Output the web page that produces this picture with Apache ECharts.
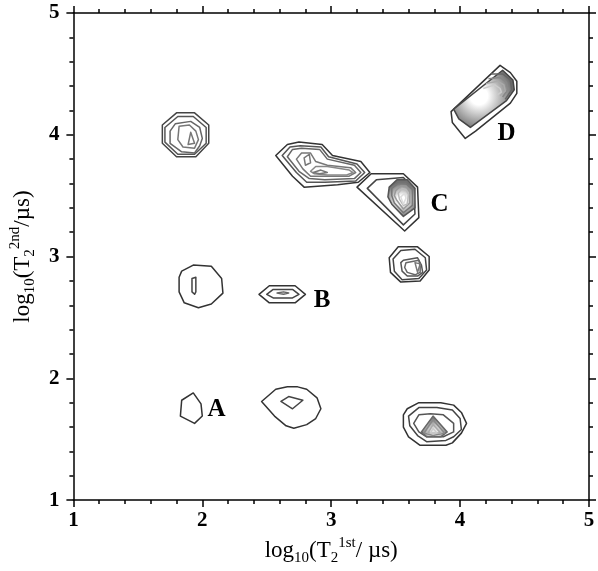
<!DOCTYPE html>
<html><head><meta charset="utf-8">
<script src="https://cdn.jsdelivr.net/npm/echarts@6/dist/echarts.min.js"></script>
<style>html,body{margin:0;padding:0;background:#fff}#c{width:598px;height:571px}</style>
</head><body><div id="c"></div>
<script>
// ---- axis range / ticks (log10 of T2 in microseconds) ----
const axisMin = 1, axisMax = 5, axisStep = 1;

// ---- peak labels ----
const peakLabels = ['A', 'B', 'C', 'D'];
const peakLabelX = [2.11, 2.93, 3.84, 4.36];
const peakLabelY = [1.74, 2.64, 3.43, 4.01];

// ---- contour rings, [log10 T2 1st, log10 T2 2nd] vertices ----
const peakTopLeft = [
  [[1.80,4.18],[1.94,4.18],[2.05,4.08],[2.05,3.93],[1.95,3.82],[1.80,3.82],[1.69,3.93],[1.69,4.08]],
  [[1.81,4.15],[1.93,4.15],[2.03,4.06],[2.03,3.93],[1.94,3.84],[1.81,3.84],[1.71,3.94],[1.71,4.06]],
  [[1.79,4.09],[1.91,4.11],[1.98,4.06],[2.00,3.97],[1.98,3.91],[1.94,3.85],[1.84,3.86],[1.75,3.93],[1.75,4.03]],
  [[1.82,4.07],[1.90,4.08],[1.95,4.03],[1.97,3.96],[1.94,3.89],[1.85,3.90],[1.81,3.96]],
  [[1.91,4.02],[1.94,3.93],[1.89,3.92]]
];
const peakRidge = [
  [[2.57,3.83],[2.66,3.92],[2.75,3.94],[2.93,3.92],[3.01,3.83],[3.23,3.78],[3.30,3.69],[3.21,3.61],[3.05,3.59],[2.79,3.57],[2.70,3.66]],
  [[2.62,3.83],[2.68,3.90],[2.76,3.91],[2.92,3.90],[2.98,3.82],[3.20,3.76],[3.26,3.69],[3.19,3.62],[2.95,3.61],[2.81,3.61],[2.73,3.69]],
  [[2.66,3.82],[2.70,3.88],[2.77,3.89],[2.91,3.88],[2.97,3.80],[3.18,3.75],[3.23,3.69],[3.18,3.64],[2.95,3.63],[2.83,3.64],[2.75,3.70]],
  [[2.73,3.80],[2.77,3.85],[2.84,3.85],[2.88,3.78],[2.97,3.75],[3.15,3.73],[3.19,3.69],[3.14,3.66],[2.96,3.66],[2.84,3.66],[2.78,3.72]],
  [[2.88,3.74],[2.97,3.74],[3.14,3.71],[3.17,3.69],[3.12,3.67],[2.97,3.67],[2.87,3.68],[2.84,3.70]],
  [[2.79,3.81],[2.83,3.84],[2.84,3.77],[2.80,3.75]],
  [[2.86,3.69],[2.92,3.71],[2.97,3.69],[2.91,3.68]]
];
const peakC = [
  [[3.20,3.57],[3.31,3.68],[3.56,3.68],[3.67,3.57],[3.68,3.32],[3.57,3.21]],
  [[3.28,3.56],[3.35,3.63],[3.56,3.65],[3.64,3.56],[3.65,3.35],[3.56,3.26]],
  [[3.45,3.57],[3.51,3.63],[3.59,3.63],[3.65,3.56],[3.65,3.40],[3.56,3.33],[3.47,3.43],[3.44,3.49]],
  [[3.47,3.56],[3.52,3.60],[3.58,3.60],[3.63,3.55],[3.63,3.42],[3.56,3.36],[3.49,3.44],[3.47,3.50]],
  [[3.50,3.54],[3.54,3.58],[3.58,3.58],[3.61,3.53],[3.61,3.44],[3.56,3.39],[3.51,3.46],[3.49,3.50]],
  [[3.52,3.52],[3.55,3.56],[3.58,3.55],[3.60,3.51],[3.59,3.43],[3.56,3.42],[3.53,3.47]],
  [[3.54,3.49],[3.57,3.52],[3.58,3.48],[3.56,3.43]]
];
const peakD = [
  [[3.93,4.19],[3.94,4.10],[4.04,3.97],[4.12,4.03],[4.39,4.26],[4.44,4.34],[4.44,4.44],[4.39,4.51],[4.31,4.57]],
  [[3.95,4.21],[3.99,4.13],[4.08,4.06],[4.36,4.28],[4.42,4.37],[4.41,4.45],[4.33,4.53]],
  [[4.24,4.50],[4.33,4.50],[4.39,4.45],[4.40,4.37],[4.35,4.29]],
  [[4.22,4.46],[4.31,4.47],[4.36,4.43],[4.37,4.37],[4.33,4.31]],
  [[4.20,4.42],[4.29,4.44],[4.34,4.41],[4.35,4.36],[4.31,4.32]],
  [[4.18,4.38],[4.27,4.41],[4.31,4.38],[4.32,4.35],[4.29,4.33]]
];
const peakMidLeft = [
  [[1.82,2.83],[1.84,2.88],[1.93,2.93],[2.07,2.92],[2.15,2.82],[2.16,2.70],[2.07,2.61],[1.97,2.58],[1.86,2.62],[1.82,2.71]],
  [[1.92,2.82],[1.95,2.83],[1.95,2.78],[1.95,2.71],[1.94,2.69],[1.92,2.71],[1.92,2.78]]
];
const peakB = [
  [[2.44,2.69],[2.52,2.76],[2.72,2.76],[2.80,2.69],[2.72,2.62],[2.52,2.62]],
  [[2.50,2.69],[2.55,2.73],[2.70,2.73],[2.75,2.69],[2.70,2.66],[2.55,2.66]],
  [[2.58,2.70],[2.63,2.71],[2.67,2.70],[2.63,2.69]]
];
const peakMidRight = [
  [[3.52,3.08],[3.67,3.08],[3.76,3.00],[3.76,2.89],[3.69,2.80],[3.54,2.79],[3.46,2.87],[3.45,2.99]],
  [[3.54,3.05],[3.65,3.06],[3.73,2.99],[3.74,2.89],[3.68,2.82],[3.55,2.81],[3.49,2.88],[3.48,2.98]],
  [[3.56,2.97],[3.67,2.99],[3.70,2.93],[3.71,2.87],[3.67,2.84],[3.59,2.84],[3.55,2.88],[3.54,2.95]],
  [[3.58,2.95],[3.68,2.97],[3.69,2.92],[3.69,2.87],[3.65,2.85],[3.59,2.87],[3.57,2.91]],
  [[3.65,2.95],[3.69,2.94],[3.67,2.87]]
];
const peakA = [
  [[1.84,1.82],[1.93,1.88],[1.99,1.79],[2.00,1.69],[1.94,1.63],[1.83,1.69]]
];
const peakLowMid = [
  [[2.46,1.81],[2.57,1.91],[2.66,1.93],[2.74,1.93],[2.81,1.91],[2.89,1.84],[2.92,1.75],[2.88,1.67],[2.81,1.62],[2.71,1.59],[2.65,1.61],[2.56,1.69]],
  [[2.61,1.81],[2.67,1.85],[2.78,1.82],[2.70,1.75]]
];
const peakLowRight = [
  [[3.56,1.70],[3.59,1.75],[3.68,1.80],[3.85,1.80],[3.95,1.78],[4.01,1.72],[4.05,1.63],[4.01,1.55],[3.94,1.47],[3.89,1.45],[3.69,1.45],[3.60,1.52],[3.56,1.60]],
  [[3.60,1.69],[3.68,1.76],[3.82,1.76],[3.94,1.74],[4.00,1.67],[4.01,1.58],[3.95,1.52],[3.89,1.49],[3.74,1.48],[3.67,1.53],[3.61,1.61]],
  [[3.64,1.63],[3.68,1.70],[3.77,1.71],[3.87,1.70],[3.95,1.63],[3.95,1.56],[3.87,1.52],[3.74,1.52],[3.68,1.56]],
  [[3.70,1.56],[3.79,1.69],[3.90,1.56],[3.85,1.52],[3.74,1.52]],
  [[3.72,1.55],[3.79,1.66],[3.88,1.55],[3.79,1.53]],
  [[3.75,1.55],[3.79,1.62],[3.85,1.55]],
  [[3.77,1.55],[3.79,1.59],[3.82,1.55]]
];

// ---- styles (kept apart from the data) ----
function radial(cx, cy, inner, outer) {
  return { type: 'radial', x: cx, y: cy, r: 0.6, global: false,
    colorStops: [{ offset: 0, color: inner }, { offset: 0.25, color: inner }, { offset: 1, color: outer }] };
}
const groups = [
  { rings: peakTopLeft, styles: [
    { stroke: '#444' }, { stroke: '#555' }, { stroke: '#666' }, { stroke: '#777' }, { stroke: '#777' }] },
  { rings: peakRidge, styles: [
    { stroke: '#333' }, { stroke: '#555' }, { stroke: '#666' }, { stroke: '#777' }, { stroke: '#888' }, { stroke: '#777' }, { stroke: '#777' }] },
  { rings: peakC, styles: [
    { stroke: '#333' }, { stroke: '#444' },
    { stroke: '#555', fill: radial(0.5, 0.55, '#ffffff', '#707070') },
    { stroke: '#777' }, { stroke: '#999' }, { stroke: '#bbb' }, { stroke: '#ddd' }] },
  { rings: peakD, styles: [
    { stroke: '#333' },
    { stroke: '#444', fill: radial(0.42, 0.45, '#ffffff', '#6a6a6a') },
    { stroke: '#666', open: true }, { stroke: '#888', open: true }, { stroke: '#aaa', open: true }, { stroke: '#ccc', open: true }] },
  { rings: peakMidLeft, styles: [{ stroke: '#333' }, { stroke: '#444' }] },
  { rings: peakB, styles: [{ stroke: '#333' }, { stroke: '#444' }, { stroke: '#666' }] },
  { rings: peakMidRight, styles: [
    { stroke: '#333' }, { stroke: '#444' }, { stroke: '#555' }, { stroke: '#666' }, { stroke: '#777' }] },
  { rings: peakA, styles: [{ stroke: '#333' }] },
  { rings: peakLowMid, styles: [{ stroke: '#333' }, { stroke: '#444' }] },
  { rings: peakLowRight, styles: [
    { stroke: '#333' }, { stroke: '#444' }, { stroke: '#555' },
    { stroke: '#666', fill: radial(0.5, 0.75, '#e8e8e8', '#7a7a7a') },
    { stroke: '#888' }, { stroke: '#aaa' }, { stroke: '#ccc' }] }
];

const ringList = [];
groups.forEach(g => g.rings.forEach((pts, i) => ringList.push({ pts, style: g.styles[i] })));

const serif = 'Liberation Serif';
const richName = {
  m: { fontSize: 23, fontFamily: serif, color: '#000', lineHeight: 30 },
  s: { fontSize: 15, fontFamily: serif, color: '#000', verticalAlign: 'bottom' },
  p: { fontSize: 15, fontFamily: serif, color: '#000', verticalAlign: 'top' }
};
const lineStyle = { color: '#000', width: 1.5 };
function axis(extra) {
  return Object.assign({
    type: 'value', min: axisMin, max: axisMax, interval: axisStep,
    axisLine: { show: true, onZero: false, lineStyle },
    axisTick: { show: true, inside: false, length: 7, lineStyle },
    minorTick: { show: true, splitNumber: 5, length: 4, lineStyle },
    splitLine: { show: false },
    axisLabel: { show: false }
  }, extra);
}

const chart = echarts.init(document.getElementById('c'), null, { renderer: 'canvas' });
chart.setOption({
  animation: false,
  backgroundColor: '#fff',
  grid: { left: 71, right: 9, top: 13, bottom: 70, containLabel: false },
  xAxis: [
    axis({ position: 'bottom',
      axisLabel: { show: true, fontSize: 21, fontFamily: serif, fontWeight: 'bold', color: '#000', margin: 10 },
      name: '{m|log}{s|10}{m|(T}{s|2}{p|1st}{m|/ \u00b5s)}', nameLocation: 'middle', nameGap: 34,
      nameTextStyle: { rich: richName } }),
    axis({ position: 'top' })
  ],
  yAxis: [
    axis({ position: 'left',
      axisLabel: { show: true, fontSize: 21, fontFamily: serif, fontWeight: 'bold', color: '#000', margin: 14 },
      name: '{m|log}{s|10}{m|(T}{s|2}{p|2nd}{m|/\u00b5s)}', nameLocation: 'middle', nameGap: 33, nameRotate: 90,
      nameTextStyle: { rich: richName } }),
    axis({ position: 'right' })
  ],
  series: [
    {
      type: 'custom', xAxisIndex: 0, yAxisIndex: 0, clip: false,
      data: ringList.map(r => r.pts[0]),
      encode: { x: 0, y: 1 },
      renderItem: function (params, api) {
        const r = ringList[params.dataIndex];
        const pts = r.pts.map(p => api.coord(p));
        const st = r.style;
        return {
          type: st.open ? 'polyline' : 'polygon',
          shape: { points: pts },
          style: { stroke: st.stroke, fill: st.open ? null : (st.fill || null), lineWidth: 1.5, lineJoin: 'round' }
        };
      }
    },
    {
      type: 'scatter', symbolSize: 0, xAxisIndex: 0, yAxisIndex: 0,
      itemStyle: { opacity: 1 },
      data: peakLabels.map((n, i) => ({ name: n, value: [peakLabelX[i], peakLabelY[i]] })),
      label: { show: true, position: 'inside', formatter: '{b}', fontSize: 25, fontWeight: 'bold',
        fontFamily: serif, color: '#000', opacity: 1 },
      silent: true
    }
  ]
});
</script></body></html>
